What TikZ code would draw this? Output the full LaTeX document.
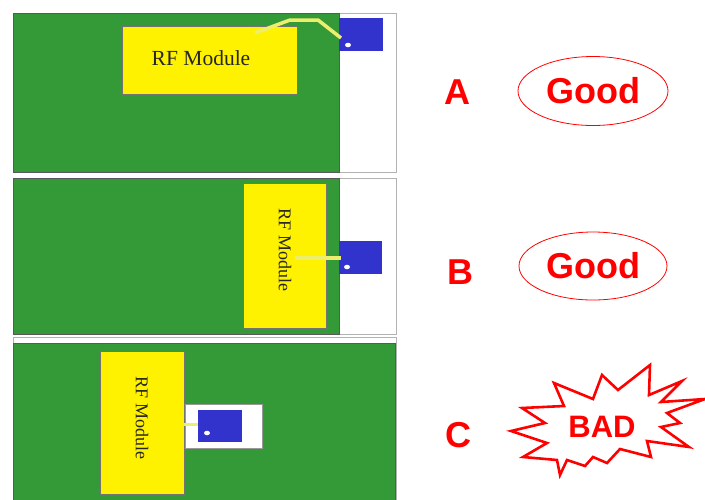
\documentclass[tikz,border=0pt]{standalone}
\usepackage{fontspec}
\setsansfont{Liberation Sans}
\newfontfamily\rffont{Liberation Serif}
\usetikzlibrary{shapes.geometric,positioning}

\definecolor{pcbgreen}{RGB}{52,154,56}
\definecolor{antblue}{RGB}{50,50,205}
\definecolor{traceyellow}{RGB}{238,238,110}

\begin{document}
\begin{tikzpicture}[
    x=1pt, y=-1pt,
    frame/.style={rectangle, draw=gray!60, fill=white, line width=0.8pt, inner sep=0pt, outer sep=0pt},
    board/.style={rectangle, draw=black!65, fill=pcbgreen, line width=0.6pt, inner sep=0pt, outer sep=0pt},
    module/.style={rectangle, draw=black!55, fill=yellow, line width=0.6pt, inner sep=0pt, outer sep=0pt, text=black!85},
    antenna/.style={rectangle, fill=antblue, inner sep=0pt, outer sep=0pt},
    keepout/.style={rectangle, draw=black!40, fill=white, line width=0.5pt, inner sep=0pt},
    trace/.style={draw=traceyellow, line width=3.5pt},
    feed/.style={ellipse, fill=white, minimum width=6pt, minimum height=4.5pt, inner sep=0pt},
    case/.style={text=red, font=\sffamily\bfseries\fontsize{36}{40}\selectfont},
    verdict/.style={ellipse, draw=red, line width=0.8pt, text=red, font=\sffamily\bfseries\fontsize{36}{40}\selectfont, inner sep=0pt}
]
    \useasboundingbox (0,0) rectangle (705,499);

    % case A: antenna outside the board corner
    \node[frame, minimum width=383pt, minimum height=159pt] (frameA) at (204.5,92.5) {};
    \node[board, minimum width=326pt, minimum height=159pt] (boardA) at (176,92.5) {};
    \node[module, minimum width=175pt, minimum height=68pt] (modA) at (209.5,60) {};
    \node[text=black!85, font=\rffont\fontsize{21.5}{24}\selectfont] (txtA) at (201,58) {RF Module};
    \node[antenna, minimum width=44pt, minimum height=33pt] (antA) at (361,34.5) {};
    \node[feed] (feedA) at (348,45) {};
    \coordinate (srcA) at (255,33);
    \draw[trace] (srcA) -- (290,20) -- (318,20) -- (341,38);

    % case B: module at the edge, antenna outside
    \node[frame, minimum width=383pt, minimum height=156pt] (frameB) at (204.5,256) {};
    \node[board, minimum width=326pt, minimum height=156pt] (boardB) at (176,256) {};
    \node[module, minimum width=83pt, minimum height=145pt] (modB) at (284.5,255.5) {};
    \node[rotate=-90, text=black!85, font=\rffont\fontsize{18}{20}\selectfont] (txtB) at (285,250) {RF Module};
    \node[antenna, minimum width=43pt, minimum height=33pt] (antB) at (360.5,257.5) {};
    \node[feed] (feedB) at (347,267) {};
    \coordinate (srcB) at (295,258);
    \coordinate (endB) at (341,258);
    \draw[trace] (srcB) -- (endB);

    % case C: antenna inside the board
    \node[frame, minimum width=383pt, minimum height=162pt] (frameC) at (204.5,418) {};
    \node[board, minimum width=382pt, minimum height=158pt] (boardC) at (204,422) {};
    \node[module, minimum width=84pt, minimum height=143pt] (modC) at (142,422.5) {};
    \node[rotate=-90, text=black!85, font=\rffont\fontsize{18}{20}\selectfont] (txtC) at (142,418) {RF Module};
    \node[keepout, minimum width=77pt, minimum height=44pt] (gapC) at (223.5,426) {};
    \node[antenna, minimum width=44pt, minimum height=32pt] (antC) at (220,426) {};
    \node[feed] (feedC) at (207,433) {};
    \draw[trace, line width=3pt] (modC.east |- 0,424) -- (antC.west |- 0,424);

    % verdicts
    \node[case] (caseA) at (457,92) {A};
    \node[case] (caseB) at (460,272) {B};
    \node[case] (caseC) at (458,435) {C};

    \node[verdict, minimum width=150pt, minimum height=69pt] (goodA) at (593,91) {Good};
    \node[verdict, minimum width=148pt, minimum height=68pt] (goodB) at (593,266) {Good};

    \draw[red, fill=white, line width=2.6pt, line join=miter]
        (511,431) -- (545,423) -- (522,408) -- (564,406) -- (554,383) -- (593,399)
        -- (602,375) -- (618,390) -- (650,365) -- (649,395) -- (682,381) -- (661,402)
        -- (705,399) -- (667,413) -- (680,423) -- (661,427) -- (689,447) -- (647,441)
        -- (651,457) -- (620,449) -- (607,463) -- (593,457) -- (585,466) -- (567,460)
        -- (560,475) -- (557,460) -- (523,457) -- (547,443) -- cycle;
    \node[text=red, font=\sffamily\bfseries\fontsize{31}{34}\selectfont] (badC) at (602,427) {BAD};
\end{tikzpicture}
\end{document}
